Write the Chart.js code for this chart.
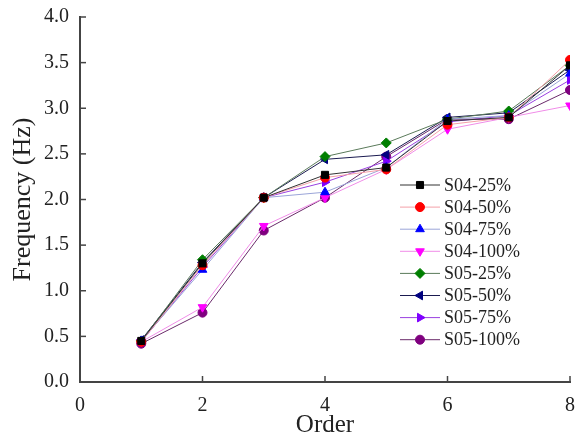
<!DOCTYPE html>
<html>
<head>
<meta charset="utf-8">
<script src="https://cdn.jsdelivr.net/npm/chart.js@4"></script>
<style>
  html, body { margin: 0; padding: 0; background: #fff; }
  #wrap { width: 579px; height: 440px; }
</style>
</head>
<body>
<div id="wrap"><canvas id="c" width="579" height="440"></canvas></div>
<script>
// order numbers on the x axis
const orders = [1, 2, 3, 4, 5, 6, 7, 8];
const yTicks = [0, 0.5, 1, 1.5, 2, 2.5, 3, 3.5, 4];
const xTicks = [0, 2, 4, 6, 8];

const seriesNames = ['S04-25%', 'S04-50%', 'S04-75%', 'S04-100%', 'S05-25%', 'S05-50%', 'S05-75%', 'S05-100%'];
const s04_25 = [0.45, 1.30, 2.02, 2.27, 2.35, 2.86, 2.90, 3.47];
const s04_50 = [0.44, 1.28, 2.02, 2.24, 2.33, 2.82, 2.90, 3.53];
const s04_75 = [0.45, 1.23, 2.02, 2.08, 2.35, 2.88, 2.92, 3.38];
const s04_100 = [0.44, 0.82, 1.71, 2.02, 2.33, 2.77, 2.90, 3.03];
const s05_25 = [0.45, 1.34, 2.02, 2.47, 2.62, 2.88, 2.97, 3.47];
const s05_50 = [0.46, 1.31, 2.02, 2.44, 2.49, 2.90, 2.95, 3.42];
const s05_75 = [0.44, 1.26, 2.02, 2.19, 2.42, 2.85, 2.92, 3.31];
const s05_100 = [0.42, 0.76, 1.66, 2.02, 2.47, 2.88, 2.88, 3.20];

const seriesValues = [s04_25, s04_50, s04_75, s04_100, s05_25, s05_50, s05_75, s05_100];
const markerColors = ['#000000', '#ff0000', '#0000ff', '#ff00ff', '#007f00', '#00007f', '#7f00ff', '#7f007f'];
const lineColors = ['#333333', '#f4a0a8', '#9aa4d8', '#f08ce8', '#5a7a5a', '#1a1a50', '#9a40e0', '#6a2a6a'];
const markerStyles = ['rect', 'circle', 'triangle', 'triangle', 'rectRot', 'triangle', 'triangle', 'circle'];
const markerRotation = [0, 0, 0, 180, 0, -90, 90, 0];
const markerSize = [5, 4.5, 5, 5, 5, 5, 5, 4.5];

const serif = '"Liberation Serif", "DejaVu Serif", serif';

const datasets = seriesNames.map((name, i) => ({
    label: name,
    data: orders.map((o, k) => ({ x: o, y: seriesValues[i][k] })),
    borderColor: lineColors[i],
    backgroundColor: markerColors[i],
    pointBorderColor: markerColors[i],
    pointBackgroundColor: markerColors[i],
    pointStyle: markerStyles[i],
    pointRotation: markerRotation[i],
    pointRadius: markerSize[i],
    borderWidth: 1,
    tension: 0,
}));

// ticks pointing into the plot, as in the original figure
const innerTicks = {
    id: 'innerTicks',
    afterDraw(chart) {
        const ctx = chart.ctx;
        const xs = chart.scales.x, ys = chart.scales.y;
        ctx.save();
        ctx.strokeStyle = '#444';
        ctx.lineWidth = 1.5;
        xTicks.forEach(v => {
            const px = xs.getPixelForValue(v);
            ctx.beginPath();
            ctx.moveTo(px, ys.bottom);
            ctx.lineTo(px, ys.bottom - 6);
            ctx.stroke();
        });
        yTicks.forEach(v => {
            const py = ys.getPixelForValue(v);
            ctx.beginPath();
            ctx.moveTo(xs.left, py);
            ctx.lineTo(xs.left + 6, py);
            ctx.stroke();
        });
        ctx.restore();
    }
};

// legend drawn inside the plot area
const insideLegend = {
    id: 'insideLegend',
    afterDraw(chart) {
        const ctx = chart.ctx;
        ctx.save();
        ctx.font = '18px ' + serif;
        ctx.textBaseline = 'middle';
        chart.data.datasets.forEach((ds, i) => {
            const y = 185 + i * 22.1;
            ctx.strokeStyle = ds.borderColor;
            ctx.lineWidth = 1;
            ctx.beginPath();
            ctx.moveTo(400, y);
            ctx.lineTo(440, y);
            ctx.stroke();
            ctx.fillStyle = ds.pointBackgroundColor;
            ctx.strokeStyle = ds.pointBorderColor;
            Chart.helpers.drawPoint(ctx, { pointStyle: ds.pointStyle, rotation: ds.pointRotation, radius: ds.pointRadius, borderWidth: 1 }, 420, y);
            ctx.fillStyle = '#222';
            ctx.fillText(ds.label, 444, y + 1);
        });
        ctx.restore();
    }
};

new Chart(document.getElementById('c'), {
    type: 'line',
    data: { datasets: datasets },
    options: {
        responsive: false,
        animation: false,
        layout: { padding: { top: 17, right: 8, left: 0, bottom: 0 } },
        plugins: { legend: { display: false }, tooltip: { enabled: false } },
        scales: {
            x: {
                type: 'linear',
                min: 0, max: 8,
                afterFit: s => { s.height = 58; },
                afterBuildTicks: s => { s.ticks = xTicks.map(v => ({ value: v })); },
                grid: { display: false },
                border: { display: true, color: '#444', width: 2 },
                ticks: { font: { family: serif, size: 20 }, color: '#222', padding: 4 },
                title: { display: true, text: 'Order', font: { family: serif, size: 25 }, color: '#222', padding: { top: -6, bottom: 0 } },
            },
            y: {
                min: 0, max: 4,
                afterFit: s => { s.width = 80; },
                afterBuildTicks: s => { s.ticks = yTicks.map(v => ({ value: v })); },
                grid: { display: false },
                border: { display: true, color: '#444', width: 2 },
                ticks: { font: { family: serif, size: 20 }, color: '#222', padding: 3, callback: v => v.toFixed(1) },
                title: { display: true, text: 'Frequency (Hz)', font: { family: serif, size: 26 }, color: '#222', padding: { top: 8, bottom: 0 } },
            },
        },
    },
    plugins: [innerTicks, insideLegend],
});
</script>
</body>
</html>
